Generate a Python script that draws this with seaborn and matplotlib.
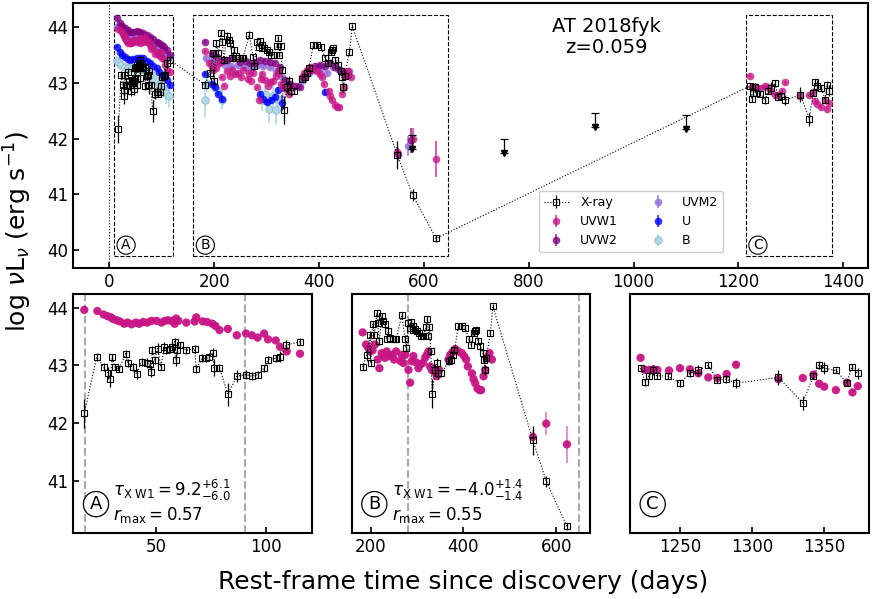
import numpy as np
import matplotlib
matplotlib.use("Agg")
import matplotlib.pyplot as plt
import seaborn as sns
from matplotlib.patches import Rectangle

# ---- X-ray (rest-frame days, log nuLnu, error) ----
xray_t = [17.0, 22.7, 25.8, 27.7, 28.8, 29.8, 31.0, 33.0, 35.9, 36.8, 39.4, 40.9,
          43.2, 45.8, 47.0, 47.7, 48.0, 49.2, 50.5, 52.0, 53.5, 54.5, 56.0, 57.3,
          58.3, 59.0, 59.4, 60.6, 63.6, 67.4, 68.2, 70.9, 72.7, 74.2, 75.8, 76.2,
          78.8, 82.6, 86.7, 90.9, 93.6, 96.2, 99.2, 101.0, 104.5, 106.4, 109.4, 115.6,
          182.7, 191.4, 198.6, 200.0, 204.0, 207.9, 213.0, 215.0, 218.7, 223.7, 227.3,
          230.9, 234.5, 238.0, 241.7, 247.5, 252.5, 254.7, 266.9, 274.1, 276.3, 281.3,
          284.9, 287.0, 290.6, 292.0, 295.7, 300.7, 305.0, 308.6, 313.7, 319.4, 322.3,
          324.5, 326.6, 329.5, 332.4, 338.8, 342.4, 346.0, 351.8, 368.3, 373.4, 377.0,
          380.6, 389.2, 396.4, 403.6, 411.5, 416.5, 422.3, 425.0, 427.5, 431.0, 436.5,
          441.6, 443.7, 446.6, 448.8, 458.0, 463.3, 549.6, 578.4, 623.0,
          1222.7, 1225.8, 1228.5, 1231.5, 1233.8, 1241.9, 1250.0, 1256.9, 1262.7,
          1269.6, 1275.4, 1281.9, 1288.8, 1318.1, 1335.0, 1342.4, 1346.3, 1349.8,
          1357.9, 1365.5, 1368.9, 1372.9]
xray_L = [42.17, 43.15, 42.97, 42.87, 42.77, 43.14, 42.97, 42.94, 43.20, 43.04, 42.97, 42.85,
          43.06, 43.04, 43.02, 42.89, 43.26, 43.09, 43.29, 42.97, 43.32, 43.26, 43.29, 43.32,
          43.41, 43.09, 43.26, 43.35, 43.26, 43.29, 42.94, 43.12, 43.12, 43.15, 43.22, 42.96,
          42.96, 42.50, 42.81, 42.84, 42.81, 42.84, 42.95, 43.10, 43.12, 43.15, 43.35, 43.41,
          42.97, 43.18, 43.53, 43.04, 43.71, 43.53, 43.90, 43.74, 43.42, 43.85, 43.77,
          43.71, 43.45, 43.59, 43.48, 43.45, 43.45, 43.45, 43.87, 43.46, 43.30, 43.74,
          43.65, 43.75, 43.68, 43.62, 43.63, 43.59, 43.56, 43.51, 43.51, 43.67, 43.80,
          43.51, 43.67, 43.24, 42.51, 42.92, 43.04, 42.86, 42.86, 43.07, 43.10, 43.18,
          43.27, 43.68, 43.68, 43.65, 43.45, 43.36, 43.56, 43.59, 43.62, 43.42, 43.33,
          43.21, 43.10, 42.92, 43.13, 43.56, 44.02, 41.70, 40.99, 40.21,
          42.95, 42.71, 42.82, 42.92, 42.82, 42.81, 42.69, 42.86, 42.91,
          43.00, 42.75, 42.76, 42.69, 42.79, 42.35, 42.82, 43.01, 42.95,
          42.91, 42.70, 42.97, 42.86]
xray_e = [0.25, 0.07, 0.07, 0.10, 0.15, 0.06, 0.06, 0.05, 0.06, 0.07, 0.07, 0.08,
          0.07, 0.08, 0.07, 0.10, 0.07, 0.06, 0.10, 0.06, 0.08, 0.06, 0.07, 0.08,
          0.07, 0.10, 0.07, 0.06, 0.06, 0.07, 0.07, 0.07, 0.07, 0.06, 0.08, 0.15,
          0.06, 0.20, 0.10, 0.08, 0.07, 0.06, 0.06, 0.06, 0.06, 0.10, 0.08, 0.06,
          0.06, 0.10, 0.06, 0.06, 0.06, 0.06, 0.05, 0.06, 0.06, 0.06, 0.05,
          0.06, 0.05, 0.05, 0.05, 0.05, 0.05, 0.05, 0.06, 0.06, 0.06, 0.05,
          0.05, 0.05, 0.05, 0.05, 0.05, 0.05, 0.05, 0.05, 0.05, 0.05, 0.05,
          0.05, 0.05, 0.06, 0.25, 0.10, 0.08, 0.10, 0.06, 0.06, 0.06, 0.06,
          0.06, 0.05, 0.05, 0.05, 0.05, 0.05, 0.05, 0.05, 0.05, 0.05, 0.06,
          0.06, 0.06, 0.08, 0.06, 0.05, 0.04, 0.25, 0.10, 0.06,
          0.05, 0.06, 0.05, 0.08, 0.05, 0.05, 0.06, 0.06, 0.10,
          0.05, 0.05, 0.07, 0.09, 0.13, 0.12, 0.06, 0.07, 0.10,
          0.05, 0.06, 0.06, 0.10]

# ---- UVW1 ----
uvw1_t = [17.0, 23.0, 25.8, 27.7, 29.2, 30.3, 31.8, 33.3, 35.2, 36.8, 38.6, 40.6,
          42.1, 43.9, 45.8, 47.7, 50.0, 52.3, 53.8, 55.3, 56.8, 58.3, 59.0, 60.0,
          63.6, 67.4, 68.2, 71.2, 73.2, 75.5, 77.0, 78.8, 82.6, 86.7, 90.9, 93.6,
          96.2, 99.2, 101.0, 104.5, 106.5, 109.5, 115.6,
          182.7, 190.0, 195.0, 198.6, 204.0, 209.0, 215.0, 218.7, 223.7, 230.9, 234.5,
          240.3, 245.3, 250.4, 254.7, 264.7, 266.9, 270.5, 274.1, 281.3, 284.9, 288.5,
          292.0, 297.8, 302.9, 306.5, 312.2, 317.3, 321.0, 324.5, 328.0, 331.7, 336.7,
          342.4, 347.5, 367.6, 371.2, 376.3, 382.0, 389.2, 396.4, 401.4, 405.8, 409.4,
          418.0, 421.6, 425.2, 430.2, 434.5, 438.1, 443.2, 446.8, 450.4, 456.1, 461.2,
          549.6, 578.4, 623.0,
          1222.7, 1225.8, 1228.5, 1231.5, 1234.3, 1242.4, 1250.0, 1256.9, 1262.7,
          1269.6, 1275.9, 1282.3, 1288.8, 1318.1, 1335.0, 1342.4, 1346.3, 1349.8,
          1357.9, 1365.5, 1369.4, 1373.1]
uvw1_L = [43.96, 43.94, 43.88, 43.85, 43.83, 43.80, 43.78, 43.76, 43.72, 43.74, 43.71, 43.74,
          43.72, 43.75, 43.74, 43.77, 43.77, 43.74, 43.77, 43.78, 43.77, 43.72, 43.81, 43.77,
          43.74, 43.76, 43.83, 43.76, 43.75, 43.72, 43.68, 43.61, 43.63, 43.52, 43.55, 43.52,
          43.48, 43.55, 43.45, 43.43, 43.32, 43.24, 43.20,
          43.57, 43.36, 43.30, 43.24, 43.26, 43.36, 43.10, 42.95, 43.21, 43.13, 43.24,
          43.16, 43.18, 43.10, 43.24, 43.07, 43.18, 43.04, 43.18, 42.92, 42.70, 43.07,
          43.16, 43.05, 42.95, 43.01, 43.04, 43.13, 43.18, 43.24, 42.98, 42.92, 42.89,
          42.81, 42.92, 43.10, 43.18, 43.23, 43.28, 43.24, 43.21, 43.16, 43.10, 42.98,
          42.86, 42.76, 42.69, 42.60, 42.57, 42.57, 42.81, 42.92, 43.13, 43.21, 43.10,
          41.76, 41.99, 41.63,
          43.13, 42.92, 42.92, 42.93, 42.92, 42.91, 42.95, 42.93, 42.86,
          42.79, 42.78, 42.85, 43.01, 42.76, 42.78, 42.84, 42.68, 42.63,
          42.57, 42.70, 42.53, 42.64]
uvw1_e = [0.02, 0.02, 0.02, 0.02, 0.02, 0.02, 0.02, 0.02, 0.02, 0.02, 0.02, 0.02,
          0.02, 0.02, 0.02, 0.02, 0.02, 0.02, 0.02, 0.02, 0.02, 0.02, 0.02, 0.02,
          0.02, 0.02, 0.02, 0.02, 0.02, 0.02, 0.02, 0.02, 0.02, 0.02, 0.02, 0.02,
          0.02, 0.02, 0.02, 0.02, 0.02, 0.02, 0.02,
          0.03, 0.03, 0.03, 0.03, 0.03, 0.03, 0.03, 0.03, 0.03, 0.03, 0.03,
          0.03, 0.03, 0.03, 0.03, 0.03, 0.03, 0.03, 0.03, 0.03, 0.03, 0.03,
          0.03, 0.03, 0.03, 0.03, 0.03, 0.03, 0.03, 0.03, 0.03, 0.03, 0.03,
          0.03, 0.03, 0.03, 0.03, 0.03, 0.03, 0.03, 0.03, 0.03, 0.03, 0.03,
          0.03, 0.03, 0.03, 0.03, 0.03, 0.03, 0.03, 0.03, 0.03, 0.03, 0.03,
          0.10, 0.20, 0.32,
          0.03, 0.03, 0.03, 0.03, 0.03, 0.03, 0.03, 0.03, 0.03,
          0.03, 0.03, 0.03, 0.03, 0.04, 0.03, 0.03, 0.05, 0.03,
          0.03, 0.03, 0.04, 0.03]

# ---- UVW2 ----
uvw2_t = [14, 20, 25, 30, 35, 39, 45, 52, 58, 65, 72, 78, 84, 90, 95, 100, 105, 110, 116,
          182.5, 195, 205, 215, 224, 236, 249, 260, 268, 278, 287, 296, 306, 315, 325,
          335, 345, 355, 364, 373, 383, 392, 402, 411, 421, 431, 440, 448, 456,
          550, 576]
uvw2_L = [44.16, 44.07, 44.02, 43.98, 43.95, 43.92, 43.92, 43.93, 43.92, 43.89, 43.87,
          43.83, 43.79, 43.74, 43.71, 43.68, 43.64, 43.59, 43.50,
          43.74, 43.52, 43.47, 43.40, 43.41, 43.44, 43.38, 43.40, 43.35, 43.36, 43.42,
          43.40, 43.38, 43.36, 43.29, 43.05, 42.99, 42.95, 42.93, 43.10, 43.23, 43.30,
          43.32, 43.30, 43.35, 43.28, 43.23, 43.20, 43.14,
          41.72, 41.97]
uvw2_e = [0.03, 0.03, 0.03, 0.03, 0.03, 0.03, 0.03, 0.03, 0.03, 0.03, 0.03, 0.03,
          0.03, 0.03, 0.03, 0.03, 0.03, 0.03, 0.03,
          0.03, 0.03, 0.03, 0.03, 0.03, 0.03, 0.03, 0.03, 0.03, 0.03, 0.03, 0.03,
          0.03, 0.03, 0.03, 0.03, 0.03, 0.03, 0.03, 0.03, 0.03, 0.03, 0.03, 0.03,
          0.03, 0.03, 0.03, 0.03, 0.03,
          0.12, 0.22]

# ---- UVM2 ----
uvm2_t = [14, 22, 30, 38, 45, 52, 60, 68, 76, 84, 92, 100, 107, 114,
          185, 195, 208, 220, 232, 245, 258, 270, 282, 294, 306, 318, 330, 340, 350,
          360, 370, 380, 392, 404, 415, 426, 436, 446, 458,
          570]
uvm2_L = [44.01, 43.95, 43.89, 43.86, 43.83, 43.83, 43.82, 43.80, 43.76, 43.68, 43.63,
          43.59, 43.53, 43.47,
          43.45, 43.40, 43.35, 43.33, 43.30, 43.32, 43.28, 43.27, 43.33, 43.30, 43.28,
          43.22, 43.10, 42.98, 42.92, 42.95, 43.05, 43.18, 43.25, 43.26, 43.18, 43.28,
          43.25, 43.18, 43.22,
          41.87]
uvm2_e = [0.03, 0.03, 0.03, 0.03, 0.03, 0.03, 0.03, 0.03, 0.03, 0.03, 0.03, 0.03, 0.03, 0.03,
          0.03, 0.03, 0.03, 0.03, 0.03, 0.03, 0.03, 0.03, 0.03, 0.03, 0.03, 0.03, 0.03,
          0.03, 0.03, 0.03, 0.03, 0.03, 0.03, 0.03, 0.03, 0.03, 0.03, 0.03, 0.03,
          0.18]

# ---- U ----
u_t = [14, 20, 25, 30, 35, 39, 45, 52, 58, 65, 72, 78, 84, 90, 95, 100, 105, 110, 116,
       182.5, 195, 202, 208, 215, 287, 293, 300, 309, 316, 322, 329, 411]
u_L = [43.65, 43.56, 43.51, 43.47, 43.43, 43.41, 43.43, 43.44, 43.45, 43.44, 43.40,
       43.35, 43.31, 43.26, 43.20, 43.14, 43.10, 43.05, 42.97,
       43.17, 42.99, 42.92, 42.81, 42.72, 42.80, 42.72, 42.66, 42.69, 42.75, 42.87,
       42.64, 42.84]
u_e = [0.03, 0.03, 0.03, 0.03, 0.03, 0.03, 0.03, 0.03, 0.03, 0.03, 0.03, 0.03, 0.03,
       0.03, 0.03, 0.03, 0.03, 0.03, 0.06,
       0.04, 0.04, 0.04, 0.05, 0.06, 0.05, 0.05, 0.06, 0.06, 0.05, 0.05, 0.15, 0.05]

# ---- B ----
b_t = [14, 19, 23, 29, 36, 44, 52, 60, 68, 75, 81, 88, 94, 98, 103, 108, 113,
       182.5, 186, 199, 207, 215, 291, 296, 304, 313, 318, 322]
b_L = [43.40, 43.35, 43.32, 43.28, 43.26, 43.27, 43.26, 43.25, 43.23, 43.18, 43.14,
       43.05, 42.97, 42.92, 42.88, 42.82, 42.76,
       42.69, 42.98, 42.95, 42.85, 42.69, 42.69, 42.80, 42.53, 42.77, 42.52, 42.72]
b_e = [0.08, 0.08, 0.08, 0.08, 0.08, 0.08, 0.08, 0.08, 0.08, 0.10, 0.10, 0.12, 0.12,
       0.15, 0.15, 0.20, 0.20,
       0.30, 0.15, 0.12, 0.12, 0.15, 0.20, 0.20, 0.25, 0.20, 0.25, 0.15]

# ---- X-ray upper limits ----
ul_t = [578, 753, 926, 1100]
ul_L = [42.07, 42.00, 42.46, 42.42]

# zoom windows (A, B, C)
win_t0 = [9.0, 160.0, 1214.0]
win_t1 = [122.0, 645.0, 1379.0]
win_lab = ["A", "B", "C"]
panel_xlim = [(12, 121), (159, 673), (1215.4, 1380.5)]
panel_xticks = [[50, 100], [200, 400, 600], [1250, 1300, 1350]]
panel_vlines = [[17.4, 90.4], [279.6, 650.0], []]
tau_text = [r"$\tau_{\rm X\ W1} = 9.2^{+6.1}_{-6.0}$",
            r"$\tau_{\rm X\ W1} = -4.0^{+1.4}_{-1.4}$", None]
rmax_text = [r"$r_{\rm max} = 0.57$", r"$r_{\rm max} = 0.55$", None]

sns.set_style("ticks")
plt.rcParams["font.family"] = ["DejaVu Sans"]
plt.rcParams["axes.linewidth"] = 1.5
plt.rcParams["mathtext.fontset"] = "dejavusans"
for k in ["text.color", "axes.labelcolor", "xtick.color", "ytick.color", "axes.edgecolor"]:
    plt.rcParams[k] = "black"

c_w1 = "mediumvioletred"
c_w2 = "purple"
c_m2 = "mediumpurple"
c_u = "blue"
c_b = "lightblue"

xt = np.array(xray_t); xL = np.array(xray_L); xe = np.array(xray_e)
wt = np.array(uvw1_t); wL = np.array(uvw1_L); we = np.array(uvw1_e)

fig = plt.figure(figsize=(8.72, 5.99), dpi=100)
ax_top = fig.add_axes([0.0841, 0.5526, 0.9113, 0.4419])

def style_ax(ax):
    ax.tick_params(direction="in", length=4, width=1.2, labelsize=12,
                   top=False, right=False, colors="black")
    for s in ax.spines.values():
        s.set_linewidth(1.5)
        s.set_color("black")

# ---------------- top panel ----------------
ax = ax_top
ax.axvline(0, color="black", ls=":", lw=0.8, zorder=1)
hb = ax.errorbar(b_t, b_L, yerr=b_e, fmt="o", ms=5.5, color=c_b, mec="#8db7c4", mew=0.5,
                 ecolor=c_b, elinewidth=1.2, label="B", zorder=2)
hu = ax.errorbar(u_t, u_L, yerr=u_e, fmt="o", ms=5.5, color=c_u, alpha=0.8,
                 elinewidth=1.2, mew=0, label="U", zorder=3)
hm2 = ax.errorbar(uvm2_t, uvm2_L, yerr=uvm2_e, fmt="o", ms=5.5, color=c_m2, alpha=0.85,
                  elinewidth=1.2, mew=0, label="UVM2", zorder=3)
hw2 = ax.errorbar(uvw2_t, uvw2_L, yerr=uvw2_e, fmt="o", ms=5.5, color=c_w2, alpha=0.8,
                  elinewidth=1.2, mew=0, label="UVW2", zorder=3)
hw1 = ax.errorbar(wt, wL, yerr=we, fmt="o", ms=5.5, color=c_w1, alpha=0.8,
                  elinewidth=1.2, mew=0, label="UVW1", zorder=4)
hx = ax.errorbar(xt, xL, yerr=xe, fmt="s", ls=":", lw=0.8, ms=5, mfc="none",
                 mec="black", mew=0.8, color="black", ecolor="black", elinewidth=0.9,
                 label="X-ray", zorder=6)
ul_len = 0.25
ax.errorbar(ul_t, np.array(ul_L) - ul_len, yerr=[np.zeros(len(ul_t)), np.full(len(ul_t), ul_len)],
            fmt="v", ms=4, color="black", capsize=3, elinewidth=0.9, capthick=0.9, zorder=6)

for t0, t1, lab in zip(win_t0, win_t1, win_lab):
    ax.add_patch(Rectangle((t0, 39.89), t1 - t0, 44.22 - 39.89, fill=False,
                           ls="--", lw=0.8, ec="black", zorder=1))
    ax.text(t0 + 23 if lab != "A" else 31.9, 40.09, lab, fontsize=10, ha="center",
            va="center", bbox=dict(boxstyle="circle,pad=0.15", fc="white", ec="black", lw=0.8))

ax.text(0.671, 0.873, "AT 2018fyk\nz=0.059", transform=ax.transAxes, fontsize=14,
        ha="center", va="center", linespacing=1.1)
ax.set_xlim(-68.7, 1447)
ax.set_ylim(39.68, 44.43)
ax.set_xticks(range(0, 1401, 200))
ax.set_yticks([40, 41, 42, 43, 44])
style_ax(ax)
leg = ax.legend([hx, hw1, hw2, hm2, hu, hb], ["X-ray", "UVW1", "UVW2", "UVM2", "U", "B"],
                ncol=2, fontsize=9, loc="lower left", bbox_to_anchor=(0.578, 0.035),
                columnspacing=2.2, handletextpad=0.9, framealpha=1, edgecolor="#cccccc")

# ---------------- bottom panels ----------------
lefts = [0.0841, 0.4033, 0.7225]
for i in range(3):
    a = fig.add_axes([lefts[i], 0.1097, 0.2735, 0.399])
    t0, t1 = win_t0[i], win_t1[i]
    mx = (xt >= t0) & (xt <= t1)
    mw = (wt >= t0) & (wt <= t1)
    for v in panel_vlines[i]:
        a.axvline(v, color="#aaaaaa", ls="--", lw=1.5, zorder=1)
    a.errorbar(wt[mw], wL[mw], yerr=we[mw], fmt="none", ecolor=c_w1, alpha=0.45,
               elinewidth=1.5, zorder=2)
    sns.scatterplot(x=wt[mw], y=wL[mw], color=c_w1, s=36, edgecolor="none", alpha=0.95,
                    ax=a, legend=False, zorder=3)
    a.errorbar(xt[mx], xL[mx], yerr=xe[mx], fmt="s", ls=":", lw=0.8, ms=5, mfc="none",
               mec="black", mew=0.8, color="black", ecolor="black", elinewidth=0.9, zorder=5)
    a.set_xlim(*panel_xlim[i])
    a.set_ylim(40.09, 44.23)
    a.set_xticks(panel_xticks[i])
    a.set_yticks([41, 42, 43, 44])
    style_ax(a)
    if i > 0:
        a.tick_params(left=False, labelleft=False)
    a.set_xlabel("")
    a.set_ylabel("")
    a.text(0.095, 0.122, win_lab[i], transform=a.transAxes, fontsize=13, ha="center",
           va="center", bbox=dict(boxstyle="circle,pad=0.2", fc="white", ec="black", lw=0.9))
    if tau_text[i]:
        a.text(0.168, 0.178, tau_text[i], transform=a.transAxes, fontsize=12,
               ha="left", va="center")
        a.text(0.168, 0.075, rmax_text[i], transform=a.transAxes, fontsize=12,
               ha="left", va="center")

fig.text(0.02, 0.613, r"log $\nu\mathrm{L}_{\nu}$ (erg s$^{-1}$)", rotation=90,
         fontsize=18, ha="center", va="center")
fig.text(0.531, 0.028, "Rest-frame time since discovery (days)", fontsize=18,
         ha="center", va="center")

fig.savefig("out.png", dpi=100)
